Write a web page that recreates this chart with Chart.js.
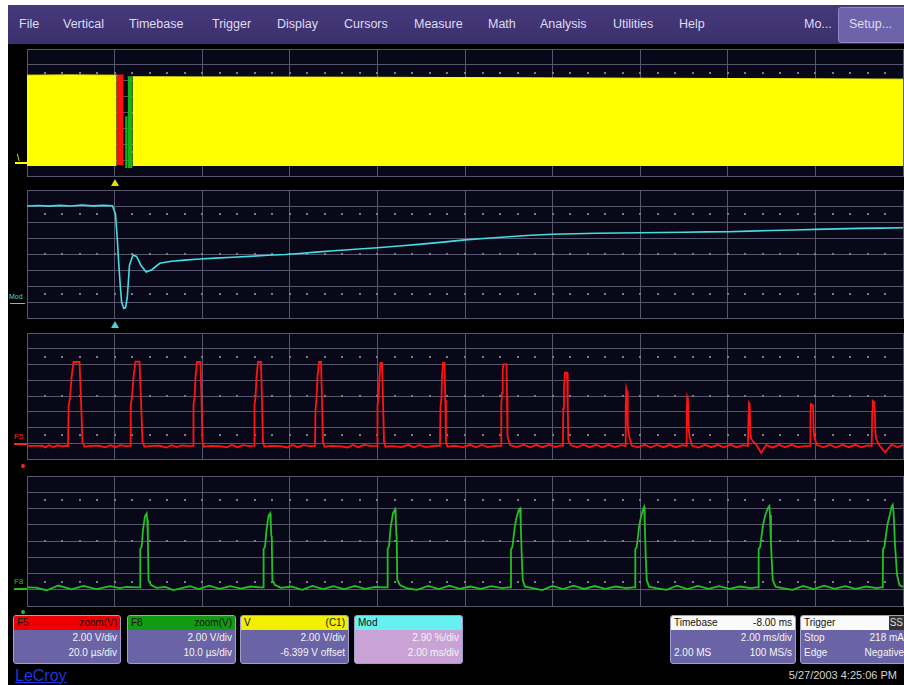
<!DOCTYPE html>
<html>
<head>
<meta charset="utf-8">
<script src="https://cdn.jsdelivr.net/npm/chart.js@4.4.0/dist/chart.umd.min.js"></script>
<style>
  body { margin: 0; width: 904px; height: 685px; background: #fff; position: relative; overflow: hidden;
         font-family: "Liberation Sans", Arial, sans-serif; }
  #screen { position: absolute; left: 8px; top: 5px; width: 896px; height: 680px; background: #000; }
  #menu { position: absolute; left: 8px; top: 5px; width: 896px; height: 39px;
          background: linear-gradient(#463a7c, #3b2f6c); }
  #menu span { position: absolute; top: 12px; font-size: 12.5px; color: #dedcf0; }
  #setup { position: absolute; left: 830px; top: 2px; width: 70px; height: 34px; background: #6c63aa;
           border: 1px solid #9088c8; border-radius: 3px; }
  canvas { position: absolute; left: 27px; }
  .box { position: absolute; top: 615px; height: 47px; border: 1px solid #a29cd0; border-radius: 3px;
         background: #6a63a6; overflow: hidden; font-size: 10px; color: #f4f4f4; }
  .hd { height: 14px; line-height: 14px; padding: 0 3px; color: #111; display: flex; justify-content: space-between; }
  .ln { height: 15px; line-height: 15px; padding: 0 3px; display: flex; justify-content: space-between; }
  .lbl { position: absolute; font-size: 8px; }
  .tri { position: absolute; width: 0; height: 0; border-left: 4px solid transparent; border-right: 4px solid transparent; }
</style>
</head>
<body>
<div id="screen"></div>
<div id="menu">
  <span style="left:11px">File</span>
  <span style="left:55px">Vertical</span>
  <span style="left:121px">Timebase</span>
  <span style="left:204px">Trigger</span>
  <span style="left:269px">Display</span>
  <span style="left:336px">Cursors</span>
  <span style="left:406px">Measure</span>
  <span style="left:480px">Math</span>
  <span style="left:532px">Analysis</span>
  <span style="left:605px">Utilities</span>
  <span style="left:671px">Help</span>
  <span style="left:796px">Mo...</span>
  <div id="setup"></div>
  <span style="left:841px">Setup...</span>
</div>

<canvas id="yellowScope" width="877" height="128" style="top:49px"></canvas>
<canvas id="modScope" width="877" height="129" style="top:190px"></canvas>
<canvas id="redScope" width="877" height="127" style="top:333px"></canvas>
<canvas id="greenScope" width="877" height="131" style="top:476px"></canvas>

<!-- trace markers -->
<div style="position:absolute;left:15px;top:162px;width:13px;height:2px;background:#ffff00"></div>
<div class="lbl" style="left:17px;top:153px;color:#ffff00;font-size:9px">\</div>
<div class="tri" style="left:111px;top:179px;border-bottom:7px solid #e8e000"></div>
<div class="lbl" style="left:9px;top:293px;color:#40d8e0;font-size:7px">Mod</div>
<div style="position:absolute;left:10px;top:303px;width:15px;height:1px;background:#40d8e0"></div>
<div class="tri" style="left:111px;top:321px;border-bottom:7px solid #40d8e0"></div>
<div class="lbl" style="left:14px;top:432px;color:#ff2020">F5</div>
<div style="position:absolute;left:14px;top:443px;width:13px;height:2px;background:#ff2020"></div>
<div style="position:absolute;left:21px;top:464px;width:4px;height:4px;border-radius:2px;background:#ff2020"></div>
<div class="lbl" style="left:14px;top:577px;color:#20c020">F8</div>
<div style="position:absolute;left:14px;top:588px;width:13px;height:2px;background:#20c020"></div>
<div style="position:absolute;left:21px;top:610px;width:4px;height:4px;border-radius:2px;background:#20c020"></div>

<!-- info boxes -->
<div class="box" style="left:13px;width:106px">
  <div class="hd" style="background:#ee0000"><span>F5</span><span>zoom(V)</span></div>
  <div class="ln"><span></span><span>2.00 V/div</span></div>
  <div class="ln"><span></span><span>20.0 µs/div</span></div>
</div>
<div class="box" style="left:127px;width:107px">
  <div class="hd" style="background:#129a12"><span>F8</span><span>zoom(V)</span></div>
  <div class="ln"><span></span><span>2.00 V/div</span></div>
  <div class="ln"><span></span><span>10.0 µs/div</span></div>
</div>
<div class="box" style="left:240px;width:107px">
  <div class="hd" style="background:#f2f000"><span>V</span><span>(C1)</span></div>
  <div class="ln"><span></span><span>2.00 V/div</span></div>
  <div class="ln"><span></span><span>-6.399 V offset</span></div>
</div>
<div class="box" style="left:354px;width:107px;background:#c9a2d6">
  <div class="hd" style="background:#66f0f0"><span>Mod</span><span></span></div>
  <div class="ln"><span></span><span>2.90 %/div</span></div>
  <div class="ln"><span></span><span>2.00 ms/div</span></div>
</div>
<div class="box" style="left:670px;width:124px">
  <div class="hd" style="background:#fafafa"><span>Timebase</span><span>-8.00 ms</span></div>
  <div class="ln"><span></span><span>2.00 ms/div</span></div>
  <div class="ln"><span>2.00 MS</span><span>100 MS/s</span></div>
</div>
<div class="box" style="left:800px;width:120px">
  <div class="hd" style="background:#fafafa"><span>Trigger</span><span style="background:#333;color:#ddd;margin-right:14px;padding:0 1px">SS</span></div>
  <div class="ln"><span>Stop</span><span style="margin-right:14px">218 mA</span></div>
  <div class="ln"><span>Edge</span><span style="margin-right:14px">Negative</span></div>
</div>

<div style="position:absolute;left:15px;top:667px;font-size:16px;color:#1a36e0;text-decoration:underline">LeCroy</div>
<div style="position:absolute;right:7px;top:669px;font-size:11px;color:#d4d4d4">5/27/2003 4:25:06 PM</div>

<script>
// ---- C1 (yellow), 2 ms/div, time in ms, level in divisions ----
const yellowLeftT = [-2.0, -1.0, 0.0, 0.046];
const yellowLeftTop = [6.35, 6.37, 6.35, 6.36];
const yellowRightT = [0.41, 2.0, 4.0, 6.0, 8.0, 10.0, 12.0, 14.0, 16.0, 18.0];
const yellowRightTop = [6.25, 6.24, 6.23, 6.22, 6.2, 6.18, 6.16, 6.14, 6.12, 6.1];
const yellowBottom = 0.63;
const triggerRedT = [0.046, 0.205];
const triggerRedTop = [6.36, 6.36];
const triggerGreenT = [0.297, 0.411];
const triggerGreenTop = [6.25, 6.25];
const triggerGreenLowT = [0.24, 0.297];
const triggerGreenLowTop = [3.72, 3.72];

// ---- Mod (cyan), 2 ms/div ----
const cyanT = [-2.0, -1.75, -1.5, -1.25, -1.0, -0.75, -0.5, -0.25, -0.05, 0.02, 0.06, 0.09, 0.13, 0.16, 0.21,
  0.25, 0.29, 0.34, 0.42, 0.5, 0.6, 0.72, 0.85, 1.03, 1.3, 1.6, 1.94, 2.3, 2.7, 3.08, 3.5, 3.9, 4.22, 4.6,
  5.0, 5.5, 6.0, 6.5, 7.0, 7.5, 8.0, 8.5, 9.0, 9.5, 10.0, 10.5, 11.0, 11.5, 12.0, 12.5, 13.0, 13.5, 14.0,
  14.5, 15.0, 15.5, 16.0, 16.5, 17.0, 17.5, 18.0];
const cyanV = [7.0, 7.03, 6.99, 7.04, 7.0, 7.06, 7.01, 7.04, 7.02, 6.5, 5.0, 3.6, 2.0, 1.0, 0.6,
  0.65, 1.3, 3.3, 3.94, 3.85, 3.3, 2.88, 3.02, 3.42, 3.55, 3.62, 3.69, 3.74, 3.8, 3.85, 3.92, 3.97, 4.03, 4.12,
  4.2, 4.3, 4.39, 4.5, 4.62, 4.74, 4.88, 4.98, 5.08, 5.17, 5.23, 5.27, 5.3, 5.31, 5.33, 5.34, 5.36, 5.38, 5.39,
  5.43, 5.47, 5.5, 5.54, 5.57, 5.6, 5.62, 5.64];

// ---- F5 zoom (red), 20 us/div, time in us ----
const redT = [
  0, 2.0, 3.5, 4.2, 5.0, 6.0, 7.0, 8.0, 9.0,
  9.36, 9.52, 9.82, 10.16, 10.62, 11.99, 12.33, 12.67, 13.13,
  14.6, 16.4, 17.9, 19.0, 20.2, 21.3, 22.6,
  23.52, 23.68, 23.97, 24.32, 24.77, 25.68, 26.03, 26.37, 26.83,
  28.4, 30.3, 31.8, 33.0, 34.2, 35.4, 36.9,
  37.90, 38.01, 38.24, 38.47, 38.81, 39.61, 39.84, 40.07, 40.41,
  42.0, 44.0, 45.6, 46.8, 48.0, 49.3, 50.8,
  51.83, 51.94, 52.17, 52.40, 52.74, 53.42, 53.65, 53.88, 54.22,
  55.8, 57.8, 59.4, 60.6, 61.8, 63.1, 64.7,
  65.75, 65.87, 66.10, 66.32, 66.67, 67.12, 67.35, 67.58, 67.92,
  69.6, 71.6, 73.2, 74.4, 75.6, 76.9, 78.8,
  79.91, 80.02, 80.25, 80.48, 80.71, 81.05, 81.28, 81.51, 81.85,
  83.4, 85.5, 87.1, 88.3, 89.6, 91.0, 93.2,
  94.29, 94.41, 94.63, 94.75, 94.98, 95.32, 95.50, 95.66, 96.01,
  97.6, 99.5, 101.2, 102.5, 103.8, 105.2, 107.2,
  108.22, 108.29, 108.45, 108.61, 108.75, 109.48, 109.59, 109.70, 110.27,
  111.8, 113.4, 114.9, 116.3, 117.7, 119.2, 120.6, 121.9,
  122.37, 122.44, 122.60, 122.83, 123.29, 123.45, 123.59, 124.13,
  125.6, 127.0, 128.5, 129.9, 131.3, 132.8, 134.2, 135.6,
  136.53, 136.69, 136.83, 136.99, 137.15, 137.33, 138.06,
  139.5, 141.0, 142.4, 143.8, 145.3, 146.7, 148.2, 149.6,
  150.46, 150.62, 150.75, 150.91, 151.07, 151.26, 151.83,
  153.3, 154.8, 156.2, 157.7, 159.1, 160.6, 162.0, 163.5,
  164.61, 164.73, 164.84, 165.00, 165.14, 165.30, 165.82,
  166.4, 167.6, 168.8, 170.2, 171.7, 173.1, 174.6, 176.0, 177.6,
  178.77, 178.88, 179.0, 179.45, 179.61, 179.80, 180.37,
  181.8, 183.3, 184.7, 186.2, 187.6, 189.1, 190.5, 191.9,
  192.86, 192.97, 193.08, 193.49, 193.68, 193.84, 194.52,
  195.9, 197.4, 198.8, 200.0
];
const redV = [
  0.83, 0.83, 0.84, 0.74, 0.88, 0.76, 0.87, 0.80, 0.84,
  0.83, 3.43, 3.87, 5.14, 6.16, 6.16, 3.75, 1.08, 0.78,
  0.83, 0.84, 0.74, 0.88, 0.75, 0.88, 0.82,
  0.83, 3.43, 3.90, 5.20, 6.18, 6.18, 3.75, 1.08, 0.78,
  0.83, 0.84, 0.73, 0.88, 0.76, 0.87, 0.82,
  0.83, 3.43, 3.90, 5.20, 6.16, 6.16, 3.75, 1.08, 0.78,
  0.83, 0.82, 0.74, 0.89, 0.75, 0.88, 0.82,
  0.83, 3.43, 3.90, 5.20, 6.16, 6.16, 3.75, 1.08, 0.78,
  0.83, 0.82, 0.73, 0.89, 0.75, 0.88, 0.82,
  0.83, 3.10, 3.90, 5.20, 6.16, 6.16, 3.75, 1.08, 0.78,
  0.83, 0.80, 0.73, 0.89, 0.75, 0.89, 0.82,
  0.83, 3.43, 3.90, 5.20, 6.10, 6.10, 3.75, 1.08, 0.78,
  0.82, 0.75, 0.90, 0.74, 0.89, 0.76, 0.84,
  0.83, 3.30, 3.90, 5.20, 6.10, 6.10, 3.75, 1.08, 0.78,
  0.84, 0.75, 0.90, 0.74, 0.89, 0.76, 0.84,
  0.83, 3.43, 4.20, 5.60, 6.01, 6.01, 4.00, 1.42, 0.89,
  0.76, 0.91, 0.74, 0.90, 0.75, 0.91, 0.76, 0.86,
  0.83, 3.20, 4.50, 5.48, 5.48, 3.50, 1.20, 0.89,
  0.74, 0.91, 0.75, 0.91, 0.74, 0.90, 0.76, 0.88,
  0.83, 3.30, 4.49, 4.30, 2.20, 1.60, 0.85,
  0.74, 0.91, 0.73, 0.91, 0.75, 0.90, 0.75, 0.88,
  0.83, 3.00, 3.89, 3.70, 2.00, 1.40, 0.85,
  0.73, 0.91, 0.75, 0.90, 0.74, 0.91, 0.75, 0.88,
  0.83, 2.80, 3.57, 3.50, 1.80, 1.30, 1.10,
  0.95, 0.40, 0.90, 0.72, 0.91, 0.74, 0.90, 0.75, 0.82,
  0.83, 3.00, 3.49, 3.40, 1.80, 1.30, 0.90,
  0.74, 0.91, 0.73, 0.91, 0.75, 0.90, 0.74, 0.86,
  0.83, 3.00, 3.70, 3.60, 1.80, 1.30, 0.90,
  0.42, 0.92, 0.74, 0.88
];

// ---- F8 zoom (green), 10 us/div, time in us ----
const greenT = [
  0, 1.0, 2.25, 3.58, 5.1, 6.43, 7.96, 9.48, 10.6, 11.38, 12.5,
  12.90, 12.93, 13.09, 13.24, 13.47, 13.66, 13.73, 13.78, 13.81, 13.87, 14.16,
  14.8, 15.8, 16.7, 18.6, 19.6, 20.8, 22.0, 23.2, 24.4, 25.5, 26.6,
  26.98, 27.01, 27.17, 27.34, 27.57, 27.74, 27.82, 27.89, 27.94, 28.01, 28.31,
  29.0, 30.2, 31.4, 32.6, 33.8, 35.0, 36.2, 37.4, 38.6, 39.8, 40.8,
  41.13, 41.17, 41.33, 41.50, 41.78, 42.01, 42.09, 42.16, 42.20, 42.27, 42.58,
  43.3, 44.5, 45.8, 47.0, 48.2, 49.4, 50.6, 51.8, 53.0, 54.2, 55.0,
  55.22, 55.25, 55.40, 55.71, 55.90, 56.17, 56.28, 56.36, 56.48, 56.59, 56.85,
  57.6, 58.8, 60.0, 61.2, 62.4, 63.6, 64.8, 66.0, 67.2, 68.4, 69.2,
  69.41, 69.44, 69.60, 69.90, 70.09, 70.32, 70.44, 70.52, 70.63, 70.75, 71.01,
  71.8, 73.0, 74.2, 75.4, 76.6, 77.8, 79.0, 80.2, 81.4, 82.6, 83.3,
  83.49, 83.52, 83.68, 84.02, 84.28, 84.59, 84.74, 84.82, 84.93, 85.13, 85.45,
  86.2, 87.4, 88.6, 89.8, 91.0, 92.2, 93.4, 94.6, 95.8, 97.0, 97.5,
  97.69, 97.72, 97.87, 98.21, 98.49, 98.69, 98.83, 98.92, 99.09, 99.32, 99.60, 100.0
];
const greenV = [
  1.15, 1.13, 0.97, 1.26, 1.03, 1.24, 1.04, 1.22, 1.10, 1.18, 1.15,
  1.15, 3.51, 3.63, 4.68, 5.54, 5.70, 5.29, 4.31, 4.25, 1.60, 1.29,
  1.12, 1.18, 0.98, 1.22, 1.04, 1.25, 1.05, 1.22, 1.07, 1.20, 1.15,
  1.15, 3.51, 3.63, 4.68, 5.54, 5.70, 5.29, 4.31, 4.25, 1.60, 1.29,
  1.12, 1.20, 1.00, 1.24, 1.04, 1.22, 1.03, 1.24, 1.06, 1.18, 1.15,
  1.15, 3.51, 3.69, 4.80, 5.72, 5.95, 5.42, 4.37, 4.25, 1.60, 1.29,
  1.10, 0.99, 1.24, 1.04, 1.25, 1.05, 1.20, 1.06, 1.22, 1.10, 1.15,
  1.15, 3.51, 3.61, 4.98, 5.49, 5.95, 6.01, 5.11, 3.03, 1.60, 1.19,
  1.12, 0.98, 1.24, 1.04, 1.25, 1.05, 1.23, 1.06, 1.20, 1.10, 1.15,
  1.15, 3.51, 3.61, 4.98, 5.49, 5.94, 6.09, 5.17, 3.08, 1.60, 1.19,
  1.10, 0.99, 1.25, 1.04, 1.24, 1.05, 1.22, 1.06, 1.20, 1.10, 1.15,
  1.15, 3.51, 3.61, 4.98, 5.60, 6.03, 6.15, 5.60, 3.75, 1.60, 1.19,
  1.10, 0.99, 1.24, 1.04, 1.25, 1.05, 1.22, 1.06, 1.20, 1.10, 1.15,
  1.15, 3.51, 3.61, 4.98, 5.60, 6.09, 6.22, 5.78, 3.75, 1.91, 1.29, 1.17
];

const gridColor = "#56566c";
const dotColor = "#7c7c90";

const pts = (ts, vs) => ts.map((t, i) => ({ x: t, y: vs[i] }));

// dark screen background + the scope's dotted rows
const scopeGrid = {
  id: "scopeGrid",
  beforeDraw(chart) {
    const { ctx, chartArea: a } = chart;
    ctx.save();
    ctx.fillStyle = "#080818";
    ctx.fillRect(a.left, a.top, a.right - a.left, a.bottom - a.top);
    ctx.restore();
  },
  beforeDatasetsDraw(chart) {
    const { ctx, scales } = chart;
    const x = scales.x, y = scales.y;
    const step = (x.max - x.min) / 50;
    ctx.save();
    ctx.fillStyle = dotColor;
    [1.5, 4, 6.5].forEach(row => {
      const py = Math.round(y.getPixelForValue(row));
      for (let i = 1; i < 50; i++) {
        const px = Math.round(x.getPixelForValue(x.min + i * step));
        ctx.fillRect(px - 1, py - 1, 2, 2);
      }
    });
    ctx.restore();
  }
};

const trace = (data, color, width) => ({
  data, borderColor: color, borderWidth: width, pointRadius: 0, tension: 0, fill: false
});
const band = (data, color, bottom) => ({
  data, borderColor: color, backgroundColor: color, borderWidth: 1, pointRadius: 0, tension: 0,
  fill: { value: bottom }
});

const makeScope = (id, xMin, xMax, xStep, datasets) => {
  new Chart(document.getElementById(id), {
    type: "line",
    data: { datasets },
    options: {
      responsive: false,
      animation: false,
      events: [],
      layout: { padding: { left: 0, top: 0, right: 1, bottom: 1 } },
      plugins: { legend: { display: false }, tooltip: { enabled: false } },
      scales: {
        x: {
          type: "linear", min: xMin, max: xMax,
          ticks: { display: false, stepSize: xStep },
          grid: { color: gridColor, drawTicks: false, tickLength: 0 },
          border: { color: gridColor }
        },
        y: {
          min: 0, max: 8,
          ticks: { display: false, stepSize: 1 },
          grid: { color: gridColor, drawTicks: false, tickLength: 0 },
          border: { color: gridColor }
        }
      }
    },
    plugins: [scopeGrid]
  });
};

makeScope("yellowScope", -2, 18, 2, [
  band(pts(yellowLeftT, yellowLeftTop), "#ffff00", yellowBottom),
  band(pts(yellowRightT, yellowRightTop), "#ffff00", yellowBottom),
  band(pts(triggerRedT, triggerRedTop), "#ff1010", 0.69),
  band(pts(triggerGreenLowT, triggerGreenLowTop), "#18b018", 0.5),
  band(pts(triggerGreenT, triggerGreenTop), "#18b018", 0.5)
]);
makeScope("modScope", -2, 18, 2, [trace(pts(cyanT, cyanV), "#46dce4", 1.6)]);
makeScope("redScope", 0, 200, 20, [trace(pts(redT, redV), "#ff1414", 1.8)]);
makeScope("greenScope", 0, 100, 10, [trace(pts(greenT, greenV), "#22c022", 1.8)]);
</script>
</body>
</html>
